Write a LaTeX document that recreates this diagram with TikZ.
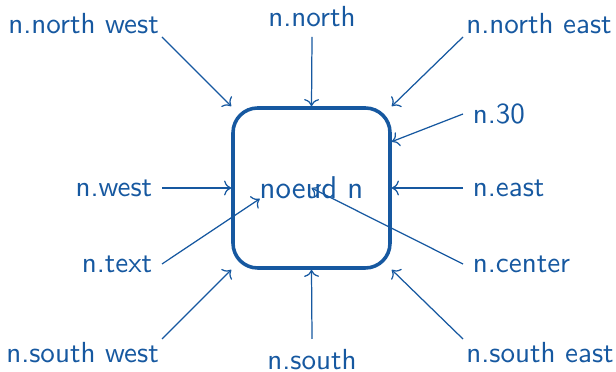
\documentclass[tikz,border=0pt]{standalone}
\usetikzlibrary{arrows.meta}
\definecolor{bl}{RGB}{22,88,160}
\begin{document}
\begin{tikzpicture}[x=0.365pt,y=-0.365pt,
  every node/.style={font=\sffamily\fontsize{10.6pt}{12pt}\selectfont, text=bl},
  lab/.style={inner sep=3.4pt},
  clab/.style={inner sep=1pt},
  arr/.style={->, draw=bl, line width=0.45pt},
  box/.style={draw=bl, line width=1.3pt, rounded corners=9pt,
    minimum width=57.3pt, minimum height=58.4pt, inner sep=0pt,
    font=\sffamily\fontsize{11.5pt}{13pt}\selectfont}]
\useasboundingbox (0,0) rectangle (616,372);
\node[box] (n) at (311.5,188) {noeud n};
% labels
\node[clab, anchor=south east] (nw) at (162,37) {n.north west};
\node[lab, anchor=south] (no) at (312,37) {n.north};
\node[clab, anchor=south west] (ne) at (463,37) {n.north east};
\node[lab, anchor=west] (t30) at (463,114) {n.30};
\node[lab, anchor=east] (we) at (162,188) {n.west};
\node[lab, anchor=west] (ea) at (463,188) {n.east};
\node[lab, anchor=east] (tx) at (162,264) {n.text};
\node[lab, anchor=west] (ce) at (463,264) {n.center};
\node[clab, anchor=north east] (sw) at (162,339) {n.south west};
\node[lab, anchor=north] (so) at (312,339) {n.south};
\node[clab, anchor=north west] (se) at (463,339) {n.south east};
% arrows
\draw[arr] (nw.south east) -- (n.north west);
\draw[arr] (no.south) -- (n.north);
\draw[arr] (ne.south west) -- (n.north east);
\draw[arr] (t30.west) -- (n.30);
\draw[arr] (we.east) -- (n.west);
\draw[arr] (ea.west) -- (n.east);
\draw[arr] (tx.east) -- (n.text);
\draw[arr] (ce.west) -- (n.center);
\draw[arr] (sw.north east) -- (n.south west);
\draw[arr] (so.north) -- (n.south);
\draw[arr] (se.north west) -- (n.south east);
\end{tikzpicture}
\end{document}
